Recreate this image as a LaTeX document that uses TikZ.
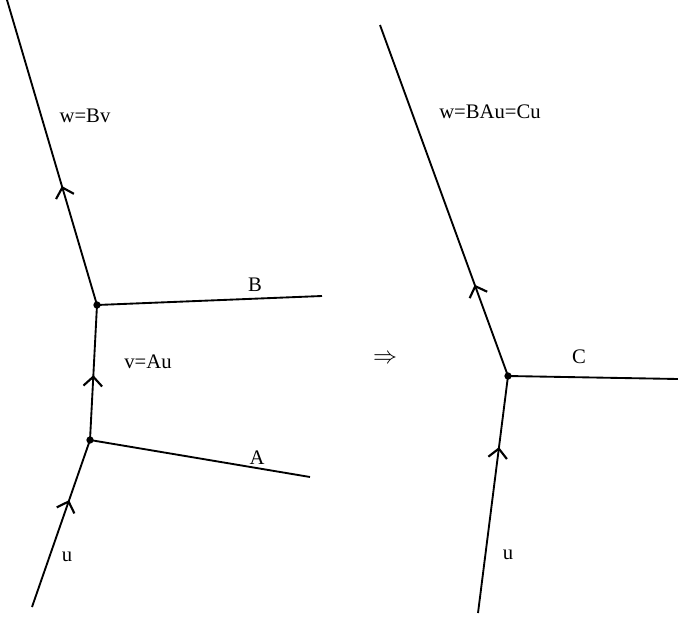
\documentclass[tikz,border=0pt]{standalone}
\usepackage{fontspec}
\setmainfont{Liberation Serif}
\usetikzlibrary{arrows.meta,decorations.markings}

\tikzset{
	edge/.style={line width=1.4pt},
	flow/.style={edge,postaction={decorate},
		decoration={markings,mark=at position #1 with {\arrow[line width=1.6pt]{Straight Barb[length=7pt,width=14pt]}}}},
	vtx/.style={circle,fill,inner sep=0pt,minimum size=5.5pt},
	lbl/.style={font=\fontsize{15.5}{18}\selectfont,inner sep=0pt}
}

\begin{document}
\begin{tikzpicture}[x=0.75pt,y=-0.75pt]
		\useasboundingbox (0,0) rectangle (678,617);
		
		% left picture
		\coordinate (lin) at (32,607);
		\coordinate (lout) at (7,0);
		\coordinate (aend) at (310,477);
		\coordinate (bend) at (322,296);
		\node[vtx] (va) at (90,440) {};
		\node[vtx] (vb) at (97,305) {};
		
		\draw[flow=0.64] (lin) -- (va.center);
		\draw[flow=0.48] (va.center) -- (vb.center);
		\draw[flow=0.39] (vb.center) -- (lout);
		\draw[edge] (va.center) -- (aend);
		\draw[edge] (vb.center) -- (bend);
		
		\node[lbl] (wl) at (85,116) {w=Bv};
		\node[lbl] (vl) at (148,362) {v=Au};
		\node[lbl] (ul) at (67,557) {u};
		\node[lbl] (al) at (257,458) {A};
		\node[lbl] (bl) at (255,285) {B};
		
		\node[lbl,scale=1.25] (imp) at (385,359) {$\Rightarrow$};
		
		% right picture
		\coordinate (rin) at (478,613);
		\coordinate (rout) at (380,25);
		\coordinate (cend) at (678,379);
		\node[vtx] (vc) at (508,376) {};
		
		\draw[flow=0.70] (rin) -- (vc.center);
		\draw[flow=0.26] (vc.center) -- (rout);
		\draw[edge] (vc.center) -- (cend);
		
		\node[lbl] (wr) at (490,112) {w=BAu=Cu};
		\node[lbl] (ur) at (508,555) {u};
		\node[lbl] (cl) at (579,357) {C};
		
\end{tikzpicture}
\end{document}
